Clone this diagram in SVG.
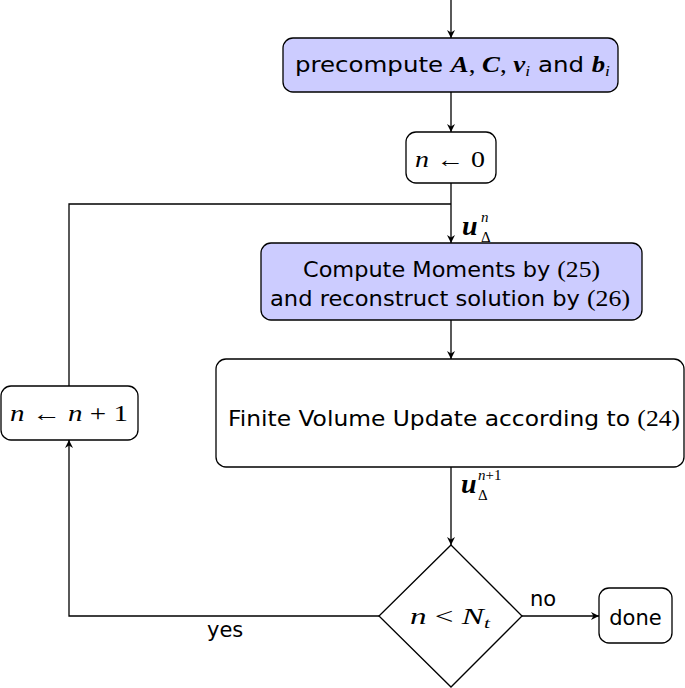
<svg xmlns="http://www.w3.org/2000/svg" width="685" height="688" viewBox="0 0 685 688">
<style>
.box{stroke:#000;stroke-width:1.3;fill:#fff}
.blue{fill:#ccccff}
.ln{fill:none;stroke:#000;stroke-width:1.3}
.sans{font-family:"DejaVu Sans","Liberation Sans",sans-serif;font-size:21px;fill:#000}
.m{font-family:"Liberation Serif","DejaVu Serif",serif;font-style:italic}
.r{font-family:"Liberation Serif","DejaVu Serif",serif;font-style:normal}
.b{font-family:"Liberation Serif","DejaVu Serif",serif;font-style:italic;font-weight:bold}
.sub{font-size:15px}
.sc{font-size:15px}
</style>
<defs>
<marker id="ah" viewBox="0 0 10 10" refX="10" refY="5" markerWidth="8" markerHeight="8" markerUnits="userSpaceOnUse" orient="auto">
<path d="M0,0 L10,5 L0,10 L3,5 Z" fill="#000"/>
</marker>
</defs>
<g id="connectors">
<path class="ln" d="M451,0 V38" marker-end="url(#ah)"/>
<path class="ln" d="M451,92 V132" marker-end="url(#ah)"/>
<path class="ln" d="M451,183 V243" marker-end="url(#ah)"/>
<path class="ln" d="M451,320 V359" marker-end="url(#ah)"/>
<path class="ln" d="M451,467 V545" marker-end="url(#ah)"/>
<path class="ln" d="M522,616 H599" marker-end="url(#ah)"/>
<path class="ln" d="M379,616 H69 V440" marker-end="url(#ah)"/>
<path class="ln" d="M69,386 V204 H451"/>
<text class="b" x="462" y="235" font-size="28">u</text>
<text class="m sc" x="481" y="222">n</text>
<text class="r sc" x="481" y="242">Δ</text>
<text class="b" x="461" y="493" font-size="28">u</text>
<text class="m sc" x="478" y="480">n<tspan class="r">+1</tspan></text>
<text class="r sc" x="478" y="500">Δ</text>
<text class="sans" x="530" y="606">no</text>
<text class="sans" x="207" y="637">yes</text>
</g>
<g id="precompute">
<rect class="box blue" x="283" y="38" width="335" height="54" rx="10"/>
<text class="sans" x="295" y="72" textLength="315" lengthAdjust="spacingAndGlyphs">precompute <tspan class="b" font-size="23">A</tspan><tspan class="r" font-size="23">, </tspan><tspan class="b" font-size="23">C</tspan><tspan class="r" font-size="23">, </tspan><tspan class="b" font-size="23">v</tspan><tspan class="m sub" dy="4">i</tspan><tspan dy="-4"> and </tspan><tspan class="b" font-size="23">b</tspan><tspan class="m sub" dy="4">i</tspan></text>
</g>
<g id="init">
<rect class="box" x="406" y="132" width="90" height="51" rx="10"/>
<text class="sans" x="415" y="167" textLength="70" lengthAdjust="spacingAndGlyphs"><tspan class="m" font-size="23">n</tspan><tspan class="r" font-size="23"> ← 0</tspan></text>
</g>
<g id="moments">
<rect class="box blue" x="261" y="243" width="381" height="77" rx="10"/>
<text class="sans" x="303" y="277" font-size="23" textLength="297" lengthAdjust="spacingAndGlyphs">Compute Moments by <tspan class="r" font-size="24">(25)</tspan></text>
<text class="sans" x="270" y="306" font-size="23" textLength="360" lengthAdjust="spacingAndGlyphs">and reconstruct solution by <tspan class="r" font-size="24">(26)</tspan></text>
</g>
<g id="fvupdate">
<rect class="box" x="216" y="359" width="468" height="108" rx="10"/>
<text class="sans" x="228" y="426" font-size="22" textLength="452" lengthAdjust="spacingAndGlyphs">Finite Volume Update according to <tspan class="r" font-size="23">(24)</tspan></text>
</g>
<g id="increment">
<rect class="box" x="1" y="386" width="137" height="54" rx="10"/>
<text class="sans" x="10" y="421" textLength="118" lengthAdjust="spacingAndGlyphs"><tspan class="m" font-size="23">n</tspan><tspan class="r" font-size="23"> ← </tspan><tspan class="m" font-size="23">n</tspan><tspan class="r" font-size="23"> + 1</tspan></text>
</g>
<g id="decision">
<polygon class="box" points="451,545 522,616 451,687 379,616"/>
<text class="sans" x="410" y="624" textLength="80" lengthAdjust="spacingAndGlyphs"><tspan class="m" font-size="23">n</tspan><tspan class="r" font-size="23"> &lt; </tspan><tspan class="m" font-size="23">N</tspan><tspan class="m sub" dy="4">t</tspan></text>
</g>
<g id="done">
<rect class="box" x="599" y="588" width="73" height="55" rx="10"/>
<text class="sans" x="635.5" y="625" text-anchor="middle" font-size="22">done</text>
</g>
</svg>
